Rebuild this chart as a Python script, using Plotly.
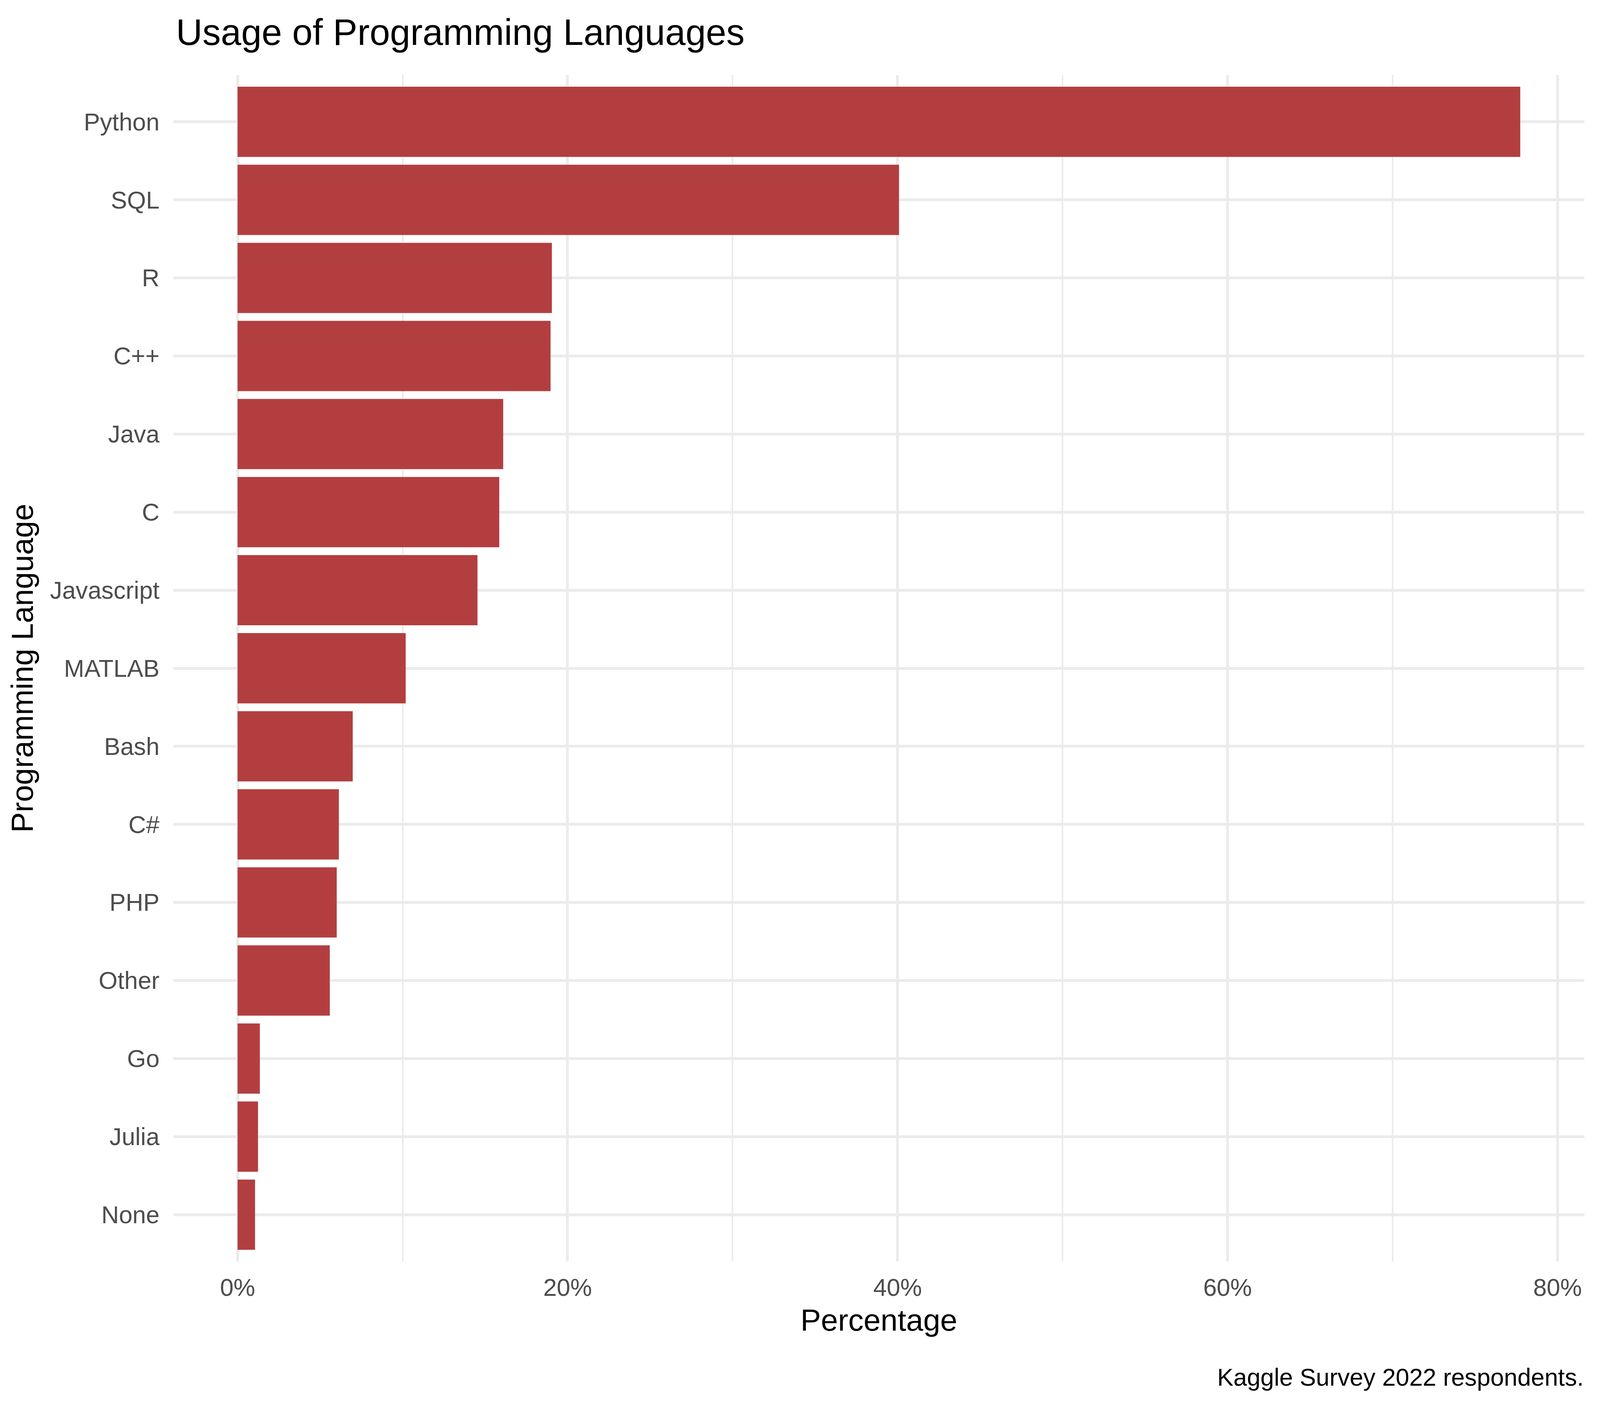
import json
import plotly.graph_objects as go

# share of respondents using each language (%), top to bottom as in the chart
languages = ["Python", "SQL", "R", "C++", "Java", "C", "Javascript", "MATLAB",
             "Bash", "C#", "PHP", "Other", "Go", "Julia", "None"]
usage_pct = [77.74, 40.09, 19.05, 18.97, 16.1, 15.86, 14.54, 10.19,
             6.98, 6.14, 6.01, 5.59, 1.35, 1.24, 1.06]

major_ticks = [0, 20, 40, 60, 80]
minor_ticks = [10, 30, 50, 70]

W, H = 4800, 3600
FONT = "Liberation Sans, Arial, sans-serif"
GRID = "#EBEBEB"

# pixel sizes for a 4800x3600 page; "x" scales with page width,
# "y" with page height, "s" with the smaller of the two
px = {
    "margin.l": (520, "x"), "margin.r": (47, "x"),
    "margin.t": (192, "y"), "margin.b": (370, "y"),
    "font.size": (73, "s"), "title.font.size": (110, "s"),
    "xaxis.tickfont.size": (73, "s"), "yaxis.tickfont.size": (73, "s"),
    "xaxis.title.font.size": (92, "s"), "yaxis.title.font.size": (92, "s"),
    "xaxis.title.standoff": (22, "y"), "yaxis.title.standoff": (20, "x"),
    "xaxis.ticklen": (12, "y"), "yaxis.ticklen": (26, "x"),
    "xaxis.gridwidth": (8.5, "s"), "yaxis.gridwidth": (8.5, "s"),
    "xaxis.minor.gridwidth": (4.3, "s"),
    "annotations[0].font.size": (73, "s"),
}


def v(key):
    return px[key][0]


fig = go.Figure()
fig.add_trace(go.Bar(
    x=usage_pct,
    y=languages,
    orientation="h",
    marker=dict(color="#B33E40", line=dict(width=0)),
    width=0.9,
    showlegend=False,
))

xmax = max(usage_pct)
fig.update_layout(
    width=W, height=H,
    paper_bgcolor="white", plot_bgcolor="white",
    margin=dict(l=v("margin.l"), r=v("margin.r"), t=v("margin.t"), b=v("margin.b"), autoexpand=False),
    font=dict(family=FONT, size=v("font.size"), color="#4D4D4D"),
    title=dict(
        text="Usage of Programming Languages",
        font=dict(family=FONT, size=v("title.font.size"), color="black"),
        x=528 / W, xanchor="left", xref="container",
        y=1 - 82 / H, yanchor="middle", yref="container",
    ),
    xaxis=dict(
        range=[-0.05 * xmax, 1.05 * xmax],
        tickvals=major_ticks,
        ticktext=[f"{t}%" for t in major_ticks],
        showgrid=True, gridcolor=GRID, gridwidth=v("xaxis.gridwidth"),
        minor=dict(tickvals=minor_ticks, showgrid=True, gridcolor=GRID,
                   gridwidth=v("xaxis.minor.gridwidth")),
        zeroline=False, showline=False,
        ticks="outside", ticklen=v("xaxis.ticklen"), tickcolor="rgba(0,0,0,0)",
        tickfont=dict(size=v("xaxis.tickfont.size"), color="#4D4D4D"),
        title=dict(text="Percentage", standoff=v("xaxis.title.standoff"),
                   font=dict(size=v("xaxis.title.font.size"), color="black")),
    ),
    yaxis=dict(
        categoryorder="array",
        categoryarray=languages[::-1],
        range=[-0.6, len(languages) - 0.4],
        showgrid=True, gridcolor=GRID, gridwidth=v("yaxis.gridwidth"),
        zeroline=False, showline=False,
        ticks="outside", ticklen=v("yaxis.ticklen"), tickcolor="rgba(0,0,0,0)",
        tickfont=dict(size=v("yaxis.tickfont.size"), color="#4D4D4D"),
        title=dict(text="Programming Language", standoff=v("yaxis.title.standoff"),
                   font=dict(size=v("yaxis.title.font.size"), color="black")),
    ),
    annotations=[dict(
        text="Kaggle Survey 2022 respondents.",
        xref="paper", yref="paper",
        x=1, xanchor="right",
        y=-(3526 - 3230) / (3230 - 192), yanchor="middle",
        showarrow=False,
        font=dict(family=FONT, size=v("annotations[0].font.size"), color="black"),
    )],
)

# fit the page to the browser window it is opened in
fit_js = """
(function () {
  var gd = document.getElementById('{plot_id}');
  var px = %s;
  document.body.style.margin = '0';
  var w = window.innerWidth, h = window.innerHeight;
  var sx = w / %d, sy = h / %d, s = Math.min(sx, sy);
  var upd = {width: w, height: h};
  for (var k in px) {
    var f = px[k][1] === 'x' ? sx : (px[k][1] === 'y' ? sy : s);
    upd[k] = px[k][0] * f;
  }
  gd.style.width = w + 'px';
  gd.style.height = h + 'px';
  Plotly.relayout(gd, upd);
})();
""" % (json.dumps(px), W, H)

fig.write_html("out.html", post_script=fit_js, config={"displayModeBar": False})
